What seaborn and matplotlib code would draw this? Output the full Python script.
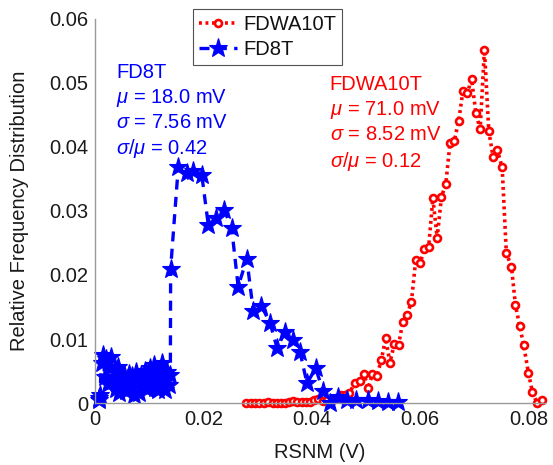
import numpy as np
import pandas as pd
import matplotlib
matplotlib.use("Agg")
import matplotlib.pyplot as plt
import seaborn as sns

# ---------------- data ----------------
fdwa_x = [0.02783, 0.02870, 0.02949, 0.03029, 0.03115, 0.03194, 0.03276, 0.03349,
          0.03423, 0.03502, 0.03582, 0.03655, 0.03729, 0.03810, 0.03889, 0.03963,
          0.04037, 0.04116, 0.04203, 0.04286, 0.04369, 0.04452, 0.04540, 0.04608,
          0.04691, 0.04787, 0.04879, 0.04958, 0.05038, 0.05117, 0.05196, 0.05281,
          0.05360, 0.05440, 0.05519, 0.05598, 0.05677, 0.05757, 0.05836, 0.05915,
          0.05994, 0.06074, 0.06153, 0.06232, 0.06311, 0.06390, 0.06470, 0.06549,
          0.06628, 0.06708, 0.06787, 0.06866, 0.06946, 0.07025, 0.07104, 0.07183,
          0.07263, 0.07342, 0.07421, 0.07510, 0.07587, 0.07681, 0.07755, 0.07834,
          0.07908, 0.07994, 0.08068, 0.08153, 0.08240]
fdwa_y = [0.0000, 0.0000, 0.0000, 0.0000, 0.0000, 0.0002, 0.0000, 0.0000,
          0.0000, 0.0000, 0.0001, 0.0003, 0.0001, 0.0001, 0.0001, 0.0001,
          0.0004, 0.0006, 0.0003, 0.0005, 0.0007, 0.0008, 0.0012, 0.0012,
          0.0015, 0.0031, 0.0035, 0.0046, 0.0023, 0.0045, 0.0042, 0.0067,
          0.0101, 0.0063, 0.0092, 0.0090, 0.0127, 0.0138, 0.0158, 0.0223,
          0.0218, 0.0240, 0.0243, 0.0320, 0.0258, 0.0322, 0.0342, 0.0407,
          0.0410, 0.0441, 0.0488, 0.0484, 0.0506, 0.0453, 0.0428, 0.0552,
          0.0425, 0.0385, 0.0395, 0.0368, 0.0234, 0.0213, 0.0153, 0.0120,
          0.0090, 0.0047, 0.0017, 0.0000, 0.0005]

fd8_x = [0.0008, 0.0008, 0.0009,
         0.0012, 0.0015, 0.0018, 0.0021, 0.0024, 0.0027, 0.0030, 0.0033, 0.0036,
         0.0039, 0.0042, 0.0045, 0.0048, 0.0051, 0.0054, 0.0057, 0.0060, 0.0063,
         0.0066, 0.0069, 0.0072, 0.0075, 0.0078, 0.0081, 0.0084, 0.0087, 0.0090,
         0.0093, 0.0096, 0.0099, 0.0102, 0.0105, 0.0108, 0.0111, 0.0114, 0.0117,
         0.0120, 0.0124, 0.0127, 0.0130, 0.0133, 0.0136, 0.0139,
         0.01395, 0.01536, 0.0169, 0.0181, 0.0197, 0.0209, 0.0224, 0.0238, 0.0252,
         0.0264, 0.0280, 0.0292, 0.0307, 0.0323, 0.0336, 0.0350, 0.0366, 0.0378,
         0.0391, 0.0407, 0.0421, 0.0433, 0.0449, 0.0464, 0.0482, 0.0504, 0.0522,
         0.0541, 0.0559]
fd8_y = [0.0004, 0.0008, 0.0012,
         0.0062, 0.0075, 0.0040, 0.0068, 0.0030, 0.0055, 0.0072, 0.0035, 0.0050,
         0.0022, 0.0057, 0.0016, 0.0040, 0.0028, 0.0046, 0.0018, 0.0038, 0.0046,
         0.0024, 0.0042, 0.0013, 0.0048, 0.0030, 0.0016, 0.0044, 0.0026, 0.0035,
         0.0050, 0.0022, 0.0040, 0.0055, 0.0030, 0.0059, 0.0024, 0.0045, 0.0020,
         0.0052, 0.0062, 0.0034, 0.0020, 0.0048, 0.0028, 0.0044,
         0.0210, 0.0369, 0.0359, 0.0363, 0.0356, 0.0278, 0.0289, 0.0302, 0.0274,
         0.0182, 0.0225, 0.0143, 0.0152, 0.01245, 0.00855, 0.0111, 0.0098, 0.0080,
         0.0031, 0.0054, 0.0018, 0.0000, 0.0010, 0.0005, 0.0004, 0.0004, 0.0003,
         0.0002, 0.0002]

x_ticks = [0, 0.02, 0.04, 0.06, 0.08]
y_ticks = [0, 0.01, 0.02, 0.03, 0.04, 0.05, 0.06]
x_tick_labels = ["0", "0.02", "0.04", "0.06", "0.08"]
y_tick_labels = ["0", "0.01", "0.02", "0.03", "0.04", "0.05", "0.06"]

fd8_text = ["FD8T", r"$\mu$ = 18.0 mV", r"$\sigma$ = 7.56 mV", r"$\sigma/\mu$ = 0.42"]
fdwa_text = ["FDWA10T", r"$\mu$ = 71.0 mV", r"$\sigma$ = 8.52 mV", r"$\sigma/\mu$ = 0.12"]

# ---------------- style ----------------
sns.set_style("white")
plt.rcParams["font.family"] = ["Liberation Sans", "DejaVu Sans"]
plt.rcParams["mathtext.fontset"] = "custom"
plt.rcParams["mathtext.it"] = "Liberation Sans:italic"
plt.rcParams["mathtext.rm"] = "Liberation Sans"

FS = 14.5
fig = plt.figure(figsize=(5.53, 4.65), dpi=100)
ax = fig.add_axes([95 / 553, 1 - 403 / 465, 450 / 553, 384 / 465])

df_r = pd.DataFrame({"x": fdwa_x, "y": fdwa_y})
df_b = pd.DataFrame({"x": fd8_x, "y": fd8_y})

sns.lineplot(data=df_r, x="x", y="y", ax=ax, sort=False, estimator=None,
             color="red", linestyle=(0, (0.8, 1.0)), linewidth=2.6,
             marker="o", markersize=5, markerfacecolor="white",
             markeredgecolor="red", markeredgewidth=1.9,
             label="FDWA10T", clip_on=False)
sns.lineplot(data=df_b, x="x", y="y", ax=ax, sort=False, estimator=None,
             color="blue", linestyle=(0, (3.0, 2.2)), linewidth=2.4,
             marker="*", markersize=14, markerfacecolor="blue",
             markeredgecolor="blue", markeredgewidth=0.8,
             label="FD8T", clip_on=False)

ax.set_xlim(0, 0.083)
ax.set_ylim(0, 0.06)
ax.set_xticks(x_ticks)
ax.set_xticklabels(x_tick_labels)
ax.set_yticks(y_ticks)
ax.set_yticklabels(y_tick_labels)
ax.tick_params(direction="in", length=4, width=0.8, color="#999999",
               labelsize=FS, labelcolor="#1a1a1a", pad=5)
for s in ["top", "right"]:
    ax.spines[s].set_visible(False)
for s in ["left", "bottom"]:
    ax.spines[s].set_color("#999999")
    ax.spines[s].set_linewidth(1.0)

ax.set_xlabel("RSNM (V)", fontsize=FS, color="#1a1a1a", labelpad=10)
ax.set_ylabel("Relative Frequency Distribution", fontsize=FS, color="#1a1a1a", labelpad=14)

# annotations
blue_y = [0.0517, 0.0477, 0.0438, 0.0398]
red_y = [0.0498, 0.0458, 0.0419, 0.0378]
for t, yy in zip(fd8_text, blue_y):
    ax.text(0.0039, yy, t, color="blue", fontsize=FS, va="center", ha="left")
for t, yy in zip(fdwa_text, red_y):
    ax.text(0.0433, yy, t, color="red", fontsize=FS, va="center", ha="left")

leg = ax.legend(loc="upper left", bbox_to_anchor=(0.218, 1.026), fontsize=FS,
                frameon=True, fancybox=False, edgecolor="#262626",
                handlelength=1.9, handletextpad=0.3, borderpad=0.3,
                labelspacing=0.3, borderaxespad=0)
leg.get_frame().set_linewidth(0.8)
for t in leg.get_texts():
    t.set_color("#111111")

fig.savefig("out.png", dpi=100)
